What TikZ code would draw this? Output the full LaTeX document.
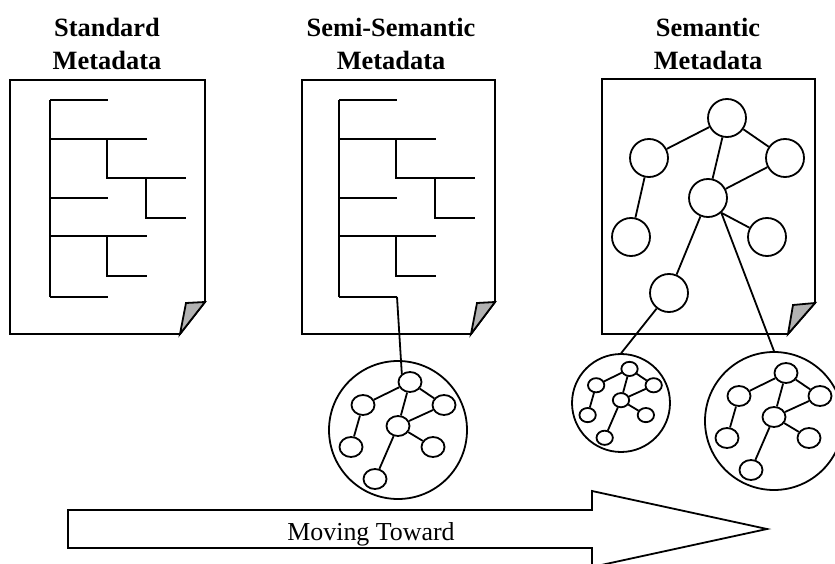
\documentclass[tikz,border=0pt]{standalone}
\usepackage{fontspec}
\setmainfont{Liberation Serif}
\usetikzlibrary{shapes.geometric}

\tikzset{
  ink/.style={line width=1.8bp, line join=miter},
  title/.style={anchor=base, inner sep=0pt, font=\fontsize{26.5}{30}\selectfont\bfseries},
  caption/.style={anchor=base, inner sep=0pt, font=\fontsize{26}{30}\selectfont},
  bigring/.style={circle, draw, ink, minimum size=138bp, inner sep=0pt},
  dot/.style={ellipse, draw, ink, minimum width=23bp, minimum height=20bp, inner sep=0pt},
  bigdot/.style={circle, draw, ink, minimum size=38bp, inner sep=0pt},
  foldfill/.style={fill=black!30, draw, ink},
  % a small graph of seven nodes held inside a ring
  cluster/.pic={
    \node[bigring] (-ring) at (0,0) {};
    \node[dot] (-top)   at (12,-48) {};
    \node[dot] (-left)  at (-35,-25) {};
    \node[dot] (-right) at (46,-25) {};
    \node[dot] (-mid)   at (0,-4) {};
    \node[dot] (-ll)    at (-47,17) {};
    \node[dot] (-lr)    at (35,17) {};
    \node[dot] (-bot)   at (-23,49) {};
    \draw[ink] (-top) -- (-left);
    \draw[ink] (-top) -- (-right);
    \draw[ink] (-top) -- (-mid);
    \draw[ink] (-right) -- (-mid);
    \draw[ink] (-mid) -- (-lr);
    \draw[ink] (-mid) -- (-bot);
    \draw[ink] (-left) -- (-ll);
  },
  % an indented outline of metadata fields
  fieldtree/.pic={
    \draw[ink] (0,100) -- (0,297);
    \draw[ink] (0,100) -- (58,100);
    \draw[ink] (0,139) -- (97,139);
    \draw[ink] (57,139) -- (57,178) -- (136,178);
    \draw[ink] (96,178) -- (96,218) -- (136,218);
    \draw[ink] (0,198) -- (58,198);
    \draw[ink] (0,236) -- (97,236);
    \draw[ink] (57,236) -- (57,276) -- (97,276);
    \draw[ink] (0,297) -- (58,297);
  }
}

\begin{document}
\begin{tikzpicture}[x=1bp, y=-1bp]
\useasboundingbox (0,0) rectangle (835,564);

% ---------- Standard Metadata ----------
\node[title] (t1a) at (107,37) {Standard};
\node[title] (t1b) at (107,70) {Metadata};
\draw[ink] (10,80) -- (205,80) -- (205,302) -- (180,334) -- (10,334) -- cycle;
\draw[foldfill] (186,303) -- (205,302) -- (180,334) -- cycle;
\pic at (50,0) {fieldtree};

% ---------- Semi-Semantic Metadata ----------
\node[title] (t2a) at (391,37) {Semi-Semantic};
\node[title] (t2b) at (391,70) {Metadata};
\draw[ink] (302,80) -- (495,80) -- (495,302) -- (471,334) -- (302,334) -- cycle;
\draw[foldfill] (477,303) -- (495,302) -- (471,334) -- cycle;
\pic at (339,0) {fieldtree};
\pic (c2) at (398,430) {cluster};
\coordinate (t2end) at (397,297);
\draw[ink] (t2end) -- (c2-top.135);

% ---------- Semantic Metadata ----------
\node[title] (t3a) at (708,37) {Semantic};
\node[title] (t3b) at (708,70) {Metadata};
\draw[ink] (602,79) -- (815,79) -- (815,303) -- (788,334) -- (602,334) -- cycle;
\draw[foldfill] (793,305) -- (815,303) -- (788,334) -- cycle;

\node[bigdot] (d3top)   at (727,118) {};
\node[bigdot] (d3left)  at (649,158) {};
\node[bigdot] (d3right) at (785,158) {};
\node[bigdot] (d3mid)   at (708,198) {};
\node[bigdot] (d3ll)    at (631,237) {};
\node[bigdot] (d3lr)    at (767,237) {};
\node[bigdot] (d3bot)   at (669,293) {};
\draw[ink] (d3top) -- (d3left);
\draw[ink] (d3top) -- (d3right);
\draw[ink] (d3top) -- (d3mid);
\draw[ink] (d3right) -- (d3mid);
\draw[ink] (d3left) -- (d3ll);
\draw[ink] (d3mid) -- (d3bot);
\draw[ink] (d3mid.-48) -- (d3lr);

\pic[scale=0.71, transform shape] (c3a) at (621,403) {cluster};
\pic (c3b) at (774,421) {cluster};
\draw[ink] (d3bot) -- (c3a-ring.north);
\draw[ink] (d3mid.-48) -- (c3b-ring.north);

% ---------- progress arrow ----------
\draw[ink, fill=white] (68,510) -- (592,510) -- (592,491) -- (767,529)
  -- (592,567) -- (592,548) -- (68,548) -- cycle;
\node[caption] (move) at (371,540) {Moving Toward};
\end{tikzpicture}
\end{document}
